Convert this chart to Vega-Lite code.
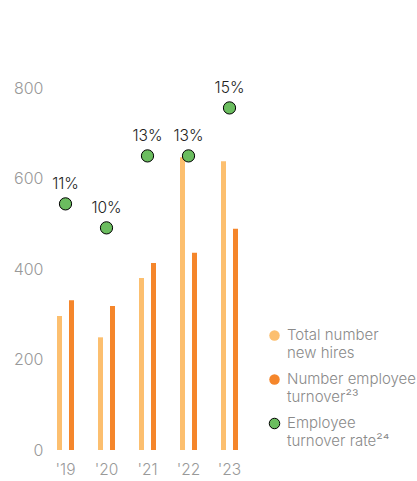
{
  "$schema": "https://vega.github.io/schema/vega-lite/v6.json",
  "width": 205,
  "height": 362,
  "autosize": "none",
  "padding": {"left": 45, "top": 88, "right": 167, "bottom": 31},
  "background": "white",
  "config": {"view": {"stroke": null}, "font": "Inter"},
  "data": {"values": [
    {"year": "'19", "series": "hires", "value": 296},
    {"year": "'19", "series": "turnover", "value": 331},
    {"year": "'19", "series": "rate", "value": 0.11},
    {"year": "'20", "series": "hires", "value": 249},
    {"year": "'20", "series": "turnover", "value": 318},
    {"year": "'20", "series": "rate", "value": 0.10},
    {"year": "'21", "series": "hires", "value": 380},
    {"year": "'21", "series": "turnover", "value": 413},
    {"year": "'21", "series": "rate", "value": 0.13},
    {"year": "'22", "series": "hires", "value": 647},
    {"year": "'22", "series": "turnover", "value": 436},
    {"year": "'22", "series": "rate", "value": 0.13},
    {"year": "'23", "series": "hires", "value": 638},
    {"year": "'23", "series": "turnover", "value": 489},
    {"year": "'23", "series": "rate", "value": 0.15}
  ]},
  "encoding": {
    "x": {"field": "year", "type": "nominal", "sort": null,
      "scale": {"paddingInner": 0, "paddingOuter": 0},
      "axis": {"title": null, "labelAngle": 0, "domain": false, "ticks": false, "labelPadding": 12, "labelFontSize": 15.5, "labelFontWeight": 300, "labelColor": "#999999"}}
  },
  "layer": [
    {
      "transform": [{"filter": "datum.series != 'rate'"}],
      "mark": {"type": "bar", "width": 5},
      "encoding": {
        "xOffset": {"field": "series", "type": "nominal", "sort": ["hires", "turnover"],
          "scale": {"paddingInner": 0.583, "paddingOuter": 1}},
        "y": {"field": "value", "type": "quantitative",
          "scale": {"domain": [0, 800]},
          "axis": {"title": null, "values": [0, 200, 400, 600, 800], "grid": false, "domain": false, "ticks": false, "labelPadding": 2, "labelFontSize": 16, "labelFontWeight": 300, "labelColor": "#999999"}},
        "color": {"field": "series", "type": "nominal",
          "scale": {"domain": ["hires", "turnover", "rate"], "range": ["#fcbf6f", "#f5862b", "#6bbd5f"]},
          "legend": {
            "title": null, "orient": "none", "legendX": 222, "legendY": 240,
            "symbolType": "circle", "symbolSize": 110, "symbolOpacity": 1,
            "labelFontSize": 15, "labelFontWeight": 300, "labelColor": "#8a8a8a", "labelOffset": 5,
            "labelBaseline": "top", "labelLimit": 200, "rowPadding": 10,
            "labelExpr": "datum.value == 'hires' ? ['Total number', 'new hires'] : datum.value == 'turnover' ? ['Number employee', 'turnover²³'] : ['Employee', 'turnover rate²⁴']",
            "encode": {
              "symbols": {"update": {"stroke": {"signal": "datum.value == 'rate' ? 'black' : 'transparent'"}, "strokeWidth": {"value": 1}, "fillOpacity": {"value": 1}}},
              "labels": {"update": {"dy": {"value": -8}, "lineHeight": {"value": 18}}}
            }
          }}
      }
    },
    {
      "transform": [{"filter": "datum.series == 'rate'"}],
      "mark": {"type": "point", "filled": true, "size": 150, "stroke": "black", "strokeWidth": 1, "opacity": 1},
      "encoding": {
        "y": {"field": "value", "type": "quantitative", "scale": {"domain": [0.0074, 0.1583]}, "axis": null},
        "color": {"field": "series", "type": "nominal"}
      }
    },
    {
      "transform": [{"filter": "datum.series == 'rate'"}],
      "mark": {"type": "text", "dy": -20, "fontSize": 15.5, "fontWeight": 300, "color": "#222222"},
      "encoding": {
        "y": {"field": "value", "type": "quantitative", "scale": {"domain": [0.0074, 0.1583]}, "axis": null},
        "text": {"field": "value", "type": "quantitative", "format": ".0%"}
      }
    }
  ],
  "resolve": {"scale": {"y": "independent"}}
}
